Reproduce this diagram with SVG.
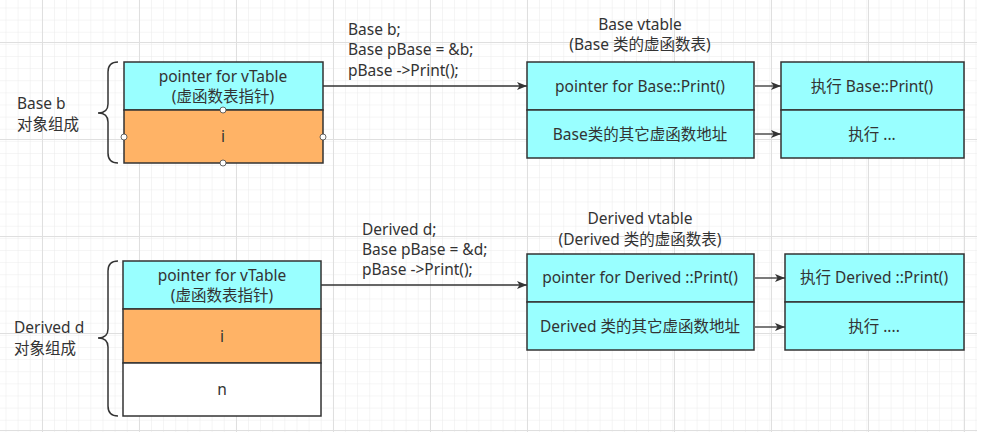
<svg xmlns="http://www.w3.org/2000/svg" width="998" height="444" viewBox="0 0 998 444">
<defs>
<pattern id="minor" x="5.5" y="7.5" width="12.125" height="12.125" patternUnits="userSpaceOnUse">
<path d="M0,0 V12.125 M0,0 H12.125" fill="none" stroke="#ebebeb" stroke-width="1"/>
</pattern>
<marker id="arr" viewBox="0 0 10 8" refX="10" refY="4" markerWidth="10" markerHeight="8" markerUnits="userSpaceOnUse" orient="auto">
<path d="M0,0 L10,4 L0,8 L2.5,4 z" fill="#333"/>
</marker>
<style>
.t{font-family:"Noto Sans","Noto Sans CJK SC",sans-serif;font-size:15.5px;fill:#333}
.c{text-anchor:middle}
.box{stroke:#333;stroke-width:1.5}
.cy{fill:#9ff}
.or{fill:#ffb366}
.wh{fill:#fff}
.brace{fill:none;stroke:#333;stroke-width:1.5}
.conn{fill:none;stroke:#333;stroke-width:1.3;marker-end:url(#arr)}
.h{fill:#fff;stroke:#444;stroke-width:0.8}
.maj{stroke:#dfdfdf;stroke-width:1}
</style>
</defs>
<rect width="998" height="444" fill="#fff"/>
<g id="grid">
<rect x="0" y="0" width="977" height="432" fill="url(#minor)"/>
<path class="maj" d="M42.5,0V432 M139.5,0V432 M236.5,0V432 M333.5,0V432 M430.5,0V432 M527.5,0V432 M674.5,0V432 M771.5,0V432 M868.5,0V432 M964.5,0V432 M0,42.5H977 M0,139.5H977 M0,236.5H977 M0,333.5H977 M0,430.5H977"/>
</g>

<g id="base-b-label">
<text class="t" x="17" y="109">Base b</text>
<text class="t" x="17" y="130">对象组成</text>
<path class="brace" d="M118,62 Q108,62 108,72 V104 Q108,113 98,113 Q108,113 108,122 V153 Q108,163 118,163"/>
</g>

<g id="base-b-object">
<rect class="box cy" x="124" y="62" width="199" height="48"/>
<rect class="box or" x="124" y="110" width="199" height="53"/>
<text class="t c" x="223" y="82">pointer for vTable</text>
<text class="t c" x="223" y="102">(虚函数表指针)</text>
<text class="t c" x="223" y="142">i</text>
<circle class="h" cx="223" cy="110" r="3"/>
<circle class="h" cx="124" cy="137" r="3"/>
<circle class="h" cx="323" cy="137" r="3"/>
<circle class="h" cx="223" cy="163" r="3"/>
</g>

<g id="base-code">
<text class="t" x="348" y="35">Base b;</text>
<text class="t" x="348" y="55">Base pBase = &amp;b;</text>
<text class="t" x="348" y="76">pBase -&gt;Print();</text>
</g>

<g id="base-vtable">
<text class="t c" x="640" y="30">Base vtable</text>
<text class="t c" x="640" y="50">(Base 类的虚函数表)</text>
<rect class="box cy" x="527" y="62" width="227" height="48"/>
<rect class="box cy" x="527" y="110" width="227" height="48"/>
<text class="t c" x="640" y="92">pointer for Base::Print()</text>
<text class="t c" x="640" y="140">Base类的其它虚函数地址</text>
</g>

<g id="base-exec">
<rect class="box cy" x="781" y="62" width="183" height="48"/>
<rect class="box cy" x="781" y="110" width="183" height="48"/>
<text class="t c" x="872" y="92">执行 Base::Print()</text>
<text class="t c" x="872" y="140">执行 ...</text>
</g>

<g id="derived-d-label">
<text class="t" x="14" y="333">Derived d</text>
<text class="t" x="14" y="354">对象组成</text>
<path class="brace" d="M118,261 Q108,261 108,271 V329 Q108,338 98,338 Q108,338 108,347 V406 Q108,416 118,416"/>
</g>

<g id="derived-d-object">
<rect class="box cy" x="123" y="261" width="198" height="48"/>
<rect class="box or" x="123" y="309" width="198" height="54"/>
<rect class="box wh" x="123" y="363" width="198" height="53"/>
<text class="t c" x="222" y="281">pointer for vTable</text>
<text class="t c" x="222" y="301">(虚函数表指针)</text>
<text class="t c" x="222" y="342">i</text>
<text class="t c" x="222" y="395">n</text>
</g>

<g id="derived-code">
<text class="t" x="362" y="235">Derived d;</text>
<text class="t" x="362" y="255">Base pBase = &amp;d;</text>
<text class="t" x="362" y="275">pBase -&gt;Print();</text>
</g>

<g id="derived-vtable">
<text class="t c" x="640" y="224">Derived vtable</text>
<text class="t c" x="640" y="245">(Derived 类的虚函数表)</text>
<rect class="box cy" x="527" y="254" width="227" height="48"/>
<rect class="box cy" x="527" y="302" width="227" height="48"/>
<text class="t c" x="640" y="283">pointer for Derived ::Print()</text>
<text class="t c" x="640" y="332">Derived 类的其它虚函数地址</text>
</g>

<g id="derived-exec">
<rect class="box cy" x="785" y="254" width="179" height="48"/>
<rect class="box cy" x="785" y="302" width="179" height="48"/>
<text class="t c" x="874" y="283">执行 Derived ::Print()</text>
<text class="t c" x="874" y="332">执行 ....</text>
</g>

<g id="connectors">
<path class="conn" d="M323,86 H527"/>
<path class="conn" d="M755,86 H781"/>
<path class="conn" d="M755,134 H781"/>
<path class="conn" d="M321,285 H527"/>
<path class="conn" d="M755,278 H785"/>
<path class="conn" d="M755,327 H785"/>
</g>
</svg>
